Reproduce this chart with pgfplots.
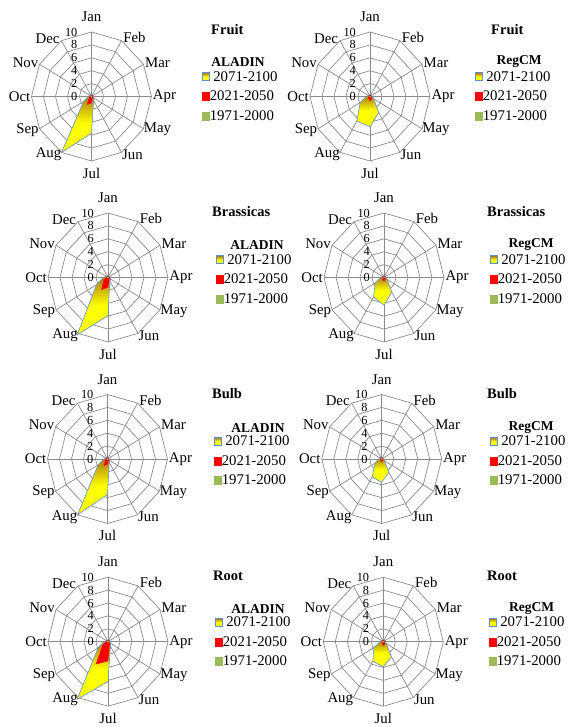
\documentclass[border=0pt]{standalone}
\usepackage{fontspec}
\setmainfont{Liberation Serif}
\usepackage{pgfplots}
\pgfplotsset{compat=1.18}
\definecolor{gridgray}{RGB}{140,140,140}
\definecolor{yedge}{RGB}{100,145,205}
\definecolor{ybrown}{RGB}{165,115,25}
\definecolor{ygreen}{RGB}{155,187,89}
\tikzset{lab/.style={font=\fontsize{14.8}{15}\selectfont, inner sep=0pt},
 rlab/.style={font=\fontsize{12.3}{12}\selectfont, inner sep=0pt, anchor=east, xshift=-14pt}}
\pgfplotsset{
 radarax/.style={
  anchor=center, x=6pt, y=6.45pt, xmin=-10,xmax=10,ymin=-10,ymax=10,
  enlargelimits=false, hide axis, clip=false,
  legend style={draw=none, fill=none, inner sep=0pt, anchor=north west,
   font=\fontsize{14.8}{15}\selectfont, row sep=8.5pt,
   nodes={inner sep=0pt, text height=10pt, text depth=1pt},
   /tikz/every even column/.append style={column sep=2pt}},
  legend cell align=left,
  legend image code/.code={\draw[##1] (0pt,-4pt) rectangle (7pt,4pt);},
 },
 gridl/.style={forget plot, data cs=polar, draw=gridgray, line width=0.7pt, mark=none},
 yser/.style={data cs=polar, draw=yedge, line width=0.6pt, top color=ybrown, bottom color=yellow, middle color=yellow, mark=none},
 rser/.style={data cs=polar, draw=red, fill=red, line width=0.3pt, mark=none},
 gser/.style={data cs=polar, draw=ygreen, fill=ygreen, line width=0.3pt, mark=none},
}
\newcommand{\radargrid}{%
 \pgfplotsinvokeforeach{2,4,6,8,10}{\addplot[gridl] coordinates {(90,##1)(60,##1)(30,##1)(0,##1)(-30,##1)(-60,##1)(-90,##1)(-120,##1)(-150,##1)(180,##1)(150,##1)(120,##1)(90,##1)};}
 \pgfplotsinvokeforeach{90,60,30,0,-30,-60,-90,-120,-150,180,150,120}{\addplot[gridl] coordinates {(##1,0)(##1,10)};}
}
\newcommand{\radarlabels}{%
 \node[lab, yshift=15pt] at (axis cs:0,10) {Jan};
 \node[lab, xshift=13pt, yshift=3pt] at (axis cs:5,8.66) {Feb};
 \node[lab, xshift=14pt, yshift=2pt] at (axis cs:8.66,5) {Mar};
 \node[lab, xshift=13pt] at (axis cs:10,0) {Apr};
 \node[lab, xshift=14pt, yshift=-1pt] at (axis cs:8.66,-5) {May};
 \node[lab, xshift=11pt, yshift=-2pt] at (axis cs:5,-8.66) {Jun};
 \node[lab, yshift=-12pt] at (axis cs:0,-10) {Jul};
 \node[lab, xshift=-13pt, yshift=-2pt] at (axis cs:-5,-8.66) {Aug};
 \node[lab, xshift=-12pt, yshift=-1pt] at (axis cs:-8.66,-5) {Sep};
 \node[lab, xshift=-12pt] at (axis cs:-10,0) {Oct};
 \node[lab, xshift=-14pt, yshift=2pt] at (axis cs:-8.66,5) {Nov};
 \node[lab, xshift=-14pt, yshift=2pt] at (axis cs:-5,8.66) {Dec};
 \node[rlab] at (axis cs:0,10) {10};
 \node[rlab] at (axis cs:0,8) {8};
 \node[rlab] at (axis cs:0,6) {6};
 \node[rlab] at (axis cs:0,4) {4};
 \node[rlab] at (axis cs:0,2) {2};
 \node[rlab] at (axis cs:0,0) {0};
}
% #1 cx, #2 cy, #3 legend marker x, #4 first legend row y, #5 yellow, #6 red
\newcommand{\radar}[6]{%
\begin{axis}[radarax, at={(#1pt,-#2pt)},
  legend style={at={({0.5+(#3-#1)/120},{0.5+(#2-#4+5)/129})}}]
 \radargrid
 \addplot[yser] coordinates {#5};
 \addlegendentry{\hspace{3.5pt}2071-2100}
 \addplot[rser] coordinates {#6};
 \addlegendentry{2021-2050}
 \addplot[gser] coordinates {(90,0.1)(60,0.1)(30,0.1)(0,0.1)(-30,0.1)(-60,0.1)(-90,0.1)(-120,0.1)(-150,0.1)(180,0.1)(150,0.1)(120,0.1)(90,0.1)};
 \addlegendentry{1971-2000}
 \radarlabels
\end{axis}}
\begin{document}
\begin{tikzpicture}
\useasboundingbox (0,0) rectangle (569pt,-727pt);
% Row 1 Fruit
\radar{91.5}{96.5}{202}{76}
 {(90,0.3)(60,0.3)(30,0.3)(0,0.3)(-30,0.4)(-60,0.7)(-90,5.7)(-120,10)(-150,1.5)(180,0.5)(150,0.3)(120,0.3)(90,0.3)}
 {(90,0.2)(60,0.2)(30,0.2)(0,0.2)(-30,0.2)(-60,0.3)(-90,1.0)(-120,1.4)(-150,0.4)(180,0.2)(150,0.2)(120,0.2)(90,0.2)}
\radar{370}{96.5}{475}{76}
 {(90,0.3)(60,0.3)(30,0.3)(0,0.4)(-30,0.7)(-60,2.9)(-90,4.7)(-120,4.4)(-150,1.9)(180,0.6)(150,0.3)(120,0.3)(90,0.3)}
 {(90,0.2)(60,0.2)(30,0.2)(0,0.2)(-30,0.3)(-60,0.5)(-90,0.7)(-120,0.4)(-150,0.3)(180,0.2)(150,0.2)(120,0.2)(90,0.2)}
% Row 2 Brassicas
\radar{108}{277.5}{216}{259}
 {(90,0.3)(60,0.3)(30,0.3)(0,0.3)(-30,0.5)(-60,0.6)(-90,5.9)(-120,10.3)(-150,2.2)(180,0.8)(150,0.3)(120,0.3)(90,0.3)}
 {(90,0.2)(60,0.2)(30,0.2)(0,0.2)(-30,0.2)(-60,0.4)(-90,1.5)(-120,2.2)(-150,0.8)(180,0.2)(150,0.2)(120,0.2)(90,0.2)}
\radar{384}{277.5}{490}{259}
 {(90,0.3)(60,0.3)(30,0.3)(0,0.3)(-30,0.6)(-60,2.6)(-90,4.3)(-120,3.5)(-150,1.7)(180,0.5)(150,0.3)(120,0.3)(90,0.3)}
 {(90,0.2)(60,0.2)(30,0.2)(0,0.2)(-30,0.2)(-60,0.4)(-90,0.6)(-120,0.4)(-150,0.3)(180,0.2)(150,0.2)(120,0.2)(90,0.2)}
% Row 3 Bulb
\radar{107.5}{459}{214}{440.7}
 {(90,0.3)(60,0.3)(30,0.3)(0,0.3)(-30,0.4)(-60,0.6)(-90,5.5)(-120,10)(-150,1.8)(180,0.6)(150,0.3)(120,0.3)(90,0.3)}
 {(90,0.2)(60,0.2)(30,0.2)(0,0.2)(-30,0.2)(-60,0.3)(-90,0.8)(-120,1.2)(-150,0.4)(180,0.2)(150,0.2)(120,0.2)(90,0.2)}
\radar{381.7}{459}{490}{440.7}
 {(90,0.3)(60,0.3)(30,0.3)(0,0.3)(-30,0.5)(-60,2.4)(-90,3.6)(-120,3.2)(-150,1.3)(180,0.4)(150,0.3)(120,0.3)(90,0.3)}
 {(90,0.2)(60,0.2)(30,0.2)(0,0.2)(-30,0.2)(-60,0.3)(-90,0.5)(-120,0.3)(-150,0.2)(180,0.2)(150,0.2)(120,0.2)(90,0.2)}
% Row 4 Root
\radar{108}{641.7}{215}{621.7}
 {(90,0.3)(60,0.3)(30,0.3)(0,0.3)(-30,0.5)(-60,0.8)(-90,6.2)(-120,10.3)(-150,1.9)(180,0.7)(150,0.3)(120,0.3)(90,0.3)}
 {(90,0.2)(60,0.2)(30,0.2)(0,0.2)(-30,0.3)(-60,0.5)(-90,3.0)(-120,4.0)(-150,1.0)(180,0.3)(150,0.2)(120,0.2)(90,0.2)}
\radar{383.3}{641.7}{489}{621.7}
 {(90,0.3)(60,0.3)(30,0.3)(0,0.3)(-30,0.6)(-60,2.7)(-90,3.9)(-120,3.5)(-150,1.8)(180,0.5)(150,0.3)(120,0.3)(90,0.3)}
 {(90,0.2)(60,0.2)(30,0.2)(0,0.2)(-30,0.2)(-60,0.5)(-90,0.6)(-120,0.4)(-150,0.2)(180,0.2)(150,0.2)(120,0.2)(90,0.2)}
% titles
\tikzset{ttl/.style={anchor=west, inner sep=0pt, font=\bfseries\fontsize{14.5}{15}\selectfont},
 mdl/.style={inner sep=0pt, font=\bfseries\fontsize{13.5}{14}\selectfont}}
\node[ttl] at (211pt,-30pt) {Fruit};
\node[mdl] at (238pt,-62pt) {ALADIN};
\node[ttl] at (491pt,-30pt) {Fruit};
\node[mdl] at (519pt,-62pt) {RegCM};
\node[ttl] at (212pt,-212pt) {Brassicas};
\node[mdl] at (257pt,-245pt) {ALADIN};
\node[ttl] at (487pt,-212pt) {Brassicas};
\node[mdl] at (531pt,-245pt) {RegCM};
\node[ttl] at (212pt,-394pt) {Bulb};
\node[mdl] at (258pt,-427.7pt) {ALADIN};
\node[ttl] at (487pt,-394pt) {Bulb};
\node[mdl] at (531pt,-427.7pt) {RegCM};
\node[ttl] at (213pt,-576pt) {Root};
\node[mdl] at (258pt,-609pt) {ALADIN};
\node[ttl] at (487pt,-576pt) {Root};
\node[mdl] at (531.7pt,-609pt) {RegCM};
\end{tikzpicture}
\end{document}
